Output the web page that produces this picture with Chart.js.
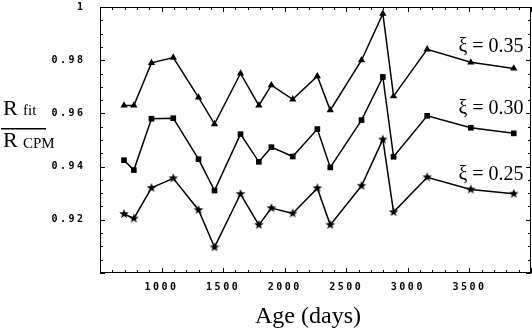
<!DOCTYPE html>
<html>
<head>
<meta charset="utf-8">
<script src="https://cdn.jsdelivr.net/npm/chart.js@4"></script>
<style>
  html, body { margin: 0; padding: 0; background: #fff; }
  canvas { display: block; }
</style>
</head>
<body>
<canvas id="chart" width="532" height="331"></canvas>
<script>
// age of the sample (days)
var ages = [695, 775, 918, 1095, 1300, 1430, 1641, 1790, 1892, 2065, 2265, 2370, 2624, 2797, 2884, 3157, 3511, 3860];

// R_fit / R_CPM for each xi
var xi35 = [0.963, 0.963, 0.979, 0.981, 0.966, 0.956, 0.975, 0.963, 0.9706, 0.9653, 0.974, 0.9612, 0.980, 0.9975, 0.9665, 0.9841, 0.9792, 0.9769];
var xi30 = [0.9424, 0.9387, 0.958, 0.9582, 0.9428, 0.931, 0.9522, 0.9418, 0.9473, 0.9438, 0.9541, 0.9397, 0.9575, 0.9737, 0.9437, 0.9591, 0.9546, 0.9525];
var xi25 = [0.9222, 0.9205, 0.932, 0.9356, 0.9237, 0.9097, 0.9297, 0.9181, 0.9244, 0.9224, 0.9319, 0.9181, 0.9328, 0.9502, 0.9229, 0.936, 0.9314, 0.9298];

var seriesLabels = ['\u03be = 0.35', '\u03be = 0.30', '\u03be = 0.25'];
// where the curve labels sit (data units: x of right edge, y of baseline)
var labelX = 3940;
var labelY = [0.983, 0.9597, 0.9349];

var xTickLabels = [1000, 1500, 2000, 2500, 3000, 3500];
var yTickLabels = [0.92, 0.94, 0.96, 0.98, 1];

function points(ys) {
  var out = [];
  for (var i = 0; i < ages.length; i++) {
    out.push({ x: ages[i], y: ys[i] });
  }
  return out;
}

// filled five point star for the xi = 0.25 curve
function makeStar(r) {
  var c = document.createElement('canvas');
  var s = Math.ceil(r * 2 + 2);
  c.width = s; c.height = s;
  var g = c.getContext('2d');
  g.translate(s / 2, s / 2);
  g.beginPath();
  for (var i = 0; i < 10; i++) {
    var rr = i % 2 === 0 ? r : r * 0.42;
    var a = -Math.PI / 2 + i * Math.PI / 5;
    g.lineTo(rr * Math.cos(a), rr * Math.sin(a));
  }
  g.closePath();
  g.fillStyle = '#000';
  g.fill();
  return c;
}
var star = makeStar(5);

function ds(label, ys, style, radius) {
  return {
    label: label,
    data: points(ys),
    borderColor: '#000',
    borderWidth: 1.5,
    pointStyle: style,
    pointRadius: radius,
    pointBackgroundColor: '#000',
    pointBorderColor: '#000',
    pointBorderWidth: 0,
    tension: 0
  };
}

var spacing = {
  id: 'spacing',
  beforeDraw: function(chart) {
    chart.ctx.letterSpacing = '2.5px';
  }
};

var frame = {
  id: 'frame',
  afterDraw: function(chart) {
    var ctx = chart.ctx;
    var a = chart.chartArea;
    var x = chart.scales.x, y = chart.scales.y;
    ctx.save();
    ctx.letterSpacing = '0px';
    ctx.strokeStyle = '#000';
    ctx.lineWidth = 1;
    ctx.strokeRect(a.left + 0.5, a.top + 0.5, a.right - a.left - 1, a.bottom - a.top - 1);

    // inward ticks on all sides
    ctx.beginPath();
    for (var d = 500; d <= 4000; d += 100) {
      var px = Math.round(x.getPixelForValue(d)) + 0.5;
      var len = d % 500 === 0 ? 5 : 3;
      ctx.moveTo(px, a.bottom); ctx.lineTo(px, a.bottom - len);
      ctx.moveTo(px, a.top); ctx.lineTo(px, a.top + len);
    }
    for (var k = 0; k <= 20; k++) {
      var v = 0.9 + k * 0.005;
      var py = Math.round(y.getPixelForValue(v)) + 0.5;
      var l2 = k % 4 === 0 ? 5 : 3;
      ctx.moveTo(a.left, py); ctx.lineTo(a.left + l2, py);
      ctx.moveTo(a.right, py); ctx.lineTo(a.right - l2, py);
    }
    ctx.stroke();

    ctx.fillStyle = '#000';
    // curve labels
    ctx.font = '20px "Liberation Serif"';
    ctx.textAlign = 'right';
    ctx.textBaseline = 'alphabetic';
    for (var i = 0; i < seriesLabels.length; i++) {
      ctx.fillText(seriesLabels[i], x.getPixelForValue(labelX), y.getPixelForValue(labelY[i]));
    }

    // x axis title
    ctx.textAlign = 'center';
    ctx.font = '24px "Liberation Serif"';
    ctx.fillText('Age (days)', 308, 323);

    // y axis title as a fraction
    ctx.textAlign = 'left';
    ctx.font = '22px "Liberation Serif"';
    ctx.fillText('R', 3, 115);
    ctx.fillText('R', 3, 147);
    ctx.font = '15px "Liberation Serif"';
    ctx.fillText('fit', 23, 115);
    ctx.fillText('CPM', 23, 148);
    ctx.fillRect(1, 128, 45, 1.5);
    ctx.restore();
  }
};

var tickFont = { family: 'DejaVu Sans Mono', size: 10, weight: 'bold' };

var ctx = document.getElementById('chart').getContext('2d');
var chart = new Chart(ctx, {
  type: 'line',
  data: {
    datasets: [
      ds(seriesLabels[0], xi35, 'triangle', 4.2),
      ds(seriesLabels[1], xi30, 'rect', 4),
      ds(seriesLabels[2], xi25, star, 5)
    ]
  },
  options: {
    responsive: false,
    animation: false,
    layout: { autoPadding: false, padding: { top: 7, right: 1, left: 0, bottom: 0 } },
    plugins: {
      legend: { display: false },
      tooltip: { enabled: false }
    },
    scales: {
      x: {
        type: 'linear',
        min: 500,
        max: 4000,
        afterFit: function(s) {
          s.height = 58;
          s.paddingLeft = 0; s.paddingRight = 0;
        },
        grid: { display: false, drawTicks: false },
        border: { display: false },
        ticks: {
          stepSize: 500,
          padding: 8,
          maxRotation: 0,
          autoSkip: false,
          color: '#000',
          font: tickFont,
          callback: function(v) {
            return xTickLabels.indexOf(v) >= 0 ? String(v) : '';
          }
        }
      },
      y: {
        min: 0.9,
        max: 1.0,
        afterFit: function(s) {
          s.width = 100;
          s.paddingTop = 0; s.paddingBottom = 0;
        },
        grid: { display: false, drawTicks: false },
        border: { display: false },
        ticks: {
          stepSize: 0.02,
          padding: 14.5,
          autoSkip: false,
          color: '#000',
          font: tickFont,
          callback: function(v) {
            var r = Math.round(v * 100) / 100;
            if (yTickLabels.indexOf(r) < 0) return '';
            return r === 1 ? '1' : r.toFixed(2);
          }
        }
      }
    }
  },
  plugins: [spacing, frame]
});
</script>
</body>
</html>
